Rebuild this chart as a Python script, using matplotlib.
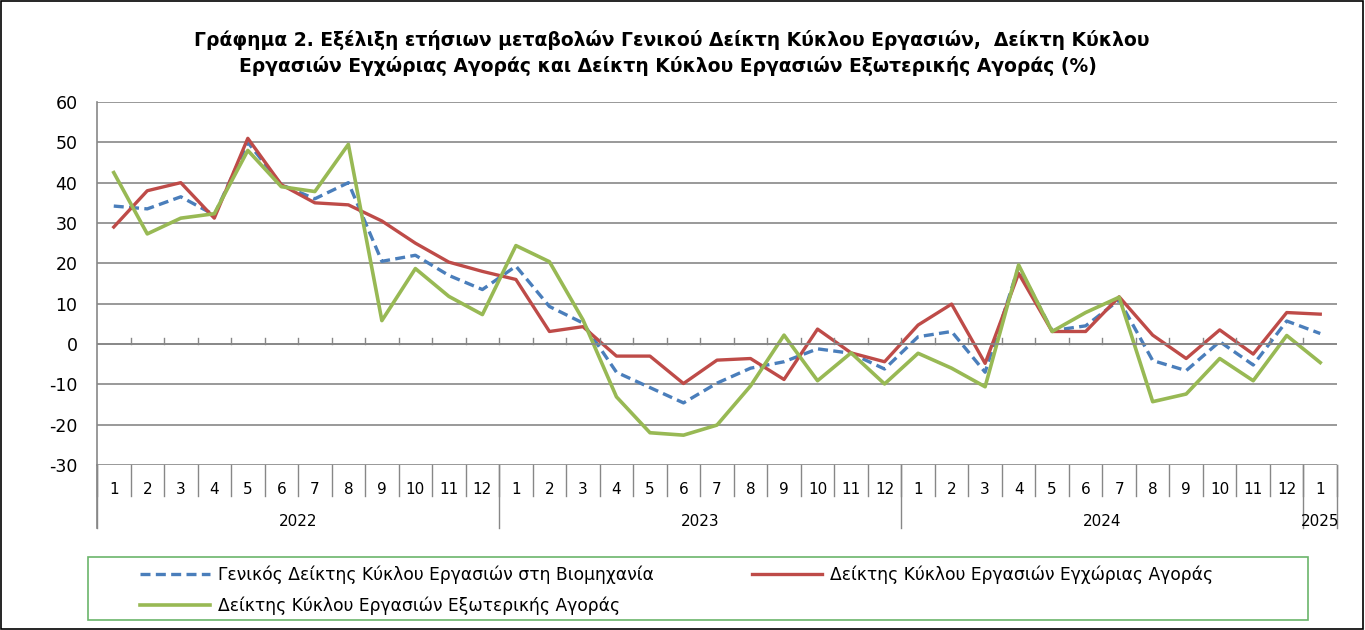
import numpy as np
import matplotlib.pyplot as plt
from matplotlib.transforms import blended_transform_factory
from matplotlib.patches import Rectangle

plt.rcParams['font.family'] = ['DejaVu Sans']
plt.rcParams['axes.unicode_minus'] = False

# Μήνες και έτη
mines = [str(m) for m in range(1, 13)] * 3 + ["1"]
eti = ["2022", "2023", "2024", "2025"]
mines_ana_etos = [12, 12, 12, 1]

# Ετήσιες μεταβολές (%)
genikos = [34.2, 33.5, 36.5, 32.0, 50.0, 39.5, 36.0, 40.0, 20.5, 22.0, 17.0, 13.5,
           19.3, 9.3, 5.2, -7.0, -10.8, -14.6, -9.7, -6.0, -4.4, -1.2, -2.3, -6.2,
           1.8, 3.1, -7.0, 19.2, 3.3, 4.5, 10.9, -4.1, -6.6, 0.6, -5.2, 5.7, 2.6]
egxoria = [29.0, 38.0, 40.0, 31.2, 51.0, 39.5, 35.0, 34.5, 30.5, 25.0, 20.3, 18.0,
           16.0, 3.1, 4.3, -3.0, -3.0, -9.8, -4.0, -3.6, -8.8, 3.7, -2.2, -4.4,
           4.7, 9.9, -4.8, 17.5, 3.1, 3.1, 11.7, 2.2, -3.6, 3.5, -2.5, 7.8, 7.4]
exoteriki = [42.5, 27.3, 31.2, 32.3, 48.0, 39.0, 37.8, 49.5, 5.8, 18.7, 11.8, 7.3,
             24.4, 20.4, 6.0, -13.1, -22.0, -22.6, -20.1, -10.4, 2.2, -9.1, -2.2, -9.9,
             -2.3, -6.0, -10.6, 19.6, 3.1, 7.8, 11.6, -14.3, -12.4, -3.6, -9.1, 2.1, -4.6]

onomata = ["Γενικός Δείκτης Κύκλου Εργασιών στη Βιομηχανία",
           "Δείκτης Κύκλου Εργασιών Εγχώριας Αγοράς",
           "Δείκτης Κύκλου Εργασιών Εξωτερικής Αγοράς"]

W, H = 1365, 630
fig = plt.figure(figsize=(W / 100, H / 100), dpi=100)
ax = fig.add_axes([97 / W, 1 - 465 / H, (1337 - 97) / W, (465 - 102) / H])

n = len(mines)
x = np.arange(n) + 0.5
grammi = "#878787"

l1, = ax.plot(x, genikos, color="#4A7EBB", lw=2.4, ls=(0, (3, 1.6)), label=onomata[0])
l2, = ax.plot(x, egxoria, color="#BE4B48", lw=2.4, label=onomata[1])
l3, = ax.plot(x, exoteriki, color="#98B954", lw=2.6, label=onomata[2])

ax.set_xlim(0, n)
ax.set_ylim(-30, 60)
ax.set_yticks(range(-30, 61, 10))
ax.grid(axis="y", color=grammi, lw=1.2)
ax.set_axisbelow(True)
for s in ["top", "right", "bottom"]:
    ax.spines[s].set_visible(False)
ax.spines["left"].set_color(grammi)
ax.spines["left"].set_linewidth(1.2)
ax.tick_params(axis="y", length=0, pad=14, labelsize=12.5)
ax.set_xticks([])

# άξονας στο 0 με μικρές υποδιαιρέσεις
ax.axhline(0, color=grammi, lw=1.2)
trans = blended_transform_factory(ax.transData, ax.transAxes)
y0 = 30 / 90
for i in range(1, n):
    ax.plot([i, i], [y0, y0 + 6 / 363], color=grammi, lw=1, transform=trans, clip_on=False)

# ετικέτες μηνών και ετών κάτω από το γράφημα
for i in range(n):
    ax.text(i + 0.5, -24 / 363, mines[i], transform=trans, ha="center", va="center", fontsize=11)
for i in range(n + 1):
    ax.plot([i, i], [0, -31 / 363], color=grammi, lw=1, transform=trans, clip_on=False)
arxi = 0
for etos, m in zip(eti, mines_ana_etos):
    ax.plot([arxi, arxi], [0, -63 / 363], color=grammi, lw=1, transform=trans, clip_on=False)
    ax.text(arxi + m / 2, -56 / 363, etos, transform=trans, ha="center", va="center", fontsize=11)
    arxi += m
ax.plot([arxi, arxi], [0, -63 / 363], color=grammi, lw=1, transform=trans, clip_on=False)
ax.plot([0, 0], [0, -63 / 363], color=grammi, lw=1.2, transform=trans, clip_on=False)

fig.text(672 / W, 1 - 40 / H,
         "Γράφημα 2. Εξέλιξη ετήσιων μεταβολών Γενικού Δείκτη Κύκλου Εργασιών,  Δείκτη Κύκλου",
         ha="center", va="center", fontsize=13.5, fontweight="bold")
fig.text(668 / W, 1 - 66 / H,
         "Εργασιών Εγχώριας Αγοράς και Δείκτη Κύκλου Εργασιών Εξωτερικής Αγοράς (%)",
         ha="center", va="center", fontsize=13.5, fontweight="bold")

# υπόμνημα: σειρά ώστε η 1η γραμμή να έχει μπλε/κόκκινο
leg = fig.legend([l1, l3, l2], [onomata[0], onomata[2], onomata[1]],
                 loc="upper left", bbox_to_anchor=(140 / W, 1 - 565 / H),
                 ncol=2, fontsize=12.3, frameon=False, handlelength=4.1,
                 handletextpad=0.45, borderpad=0, borderaxespad=0,
                 labelspacing=0.75, columnspacing=5.75)
fig.patches.append(Rectangle((88 / W, 1 - 620 / H), 1220 / W, 63 / H, transform=fig.transFigure,
                             fill=False, edgecolor="#6BB56B", lw=1.2))

fig.patches.append(Rectangle((1 / W, 1 / H), (W - 3) / W, (H - 2) / H, transform=fig.transFigure,
                             fill=False, edgecolor="black", lw=1.2))

fig.savefig("out.png", dpi=100)
